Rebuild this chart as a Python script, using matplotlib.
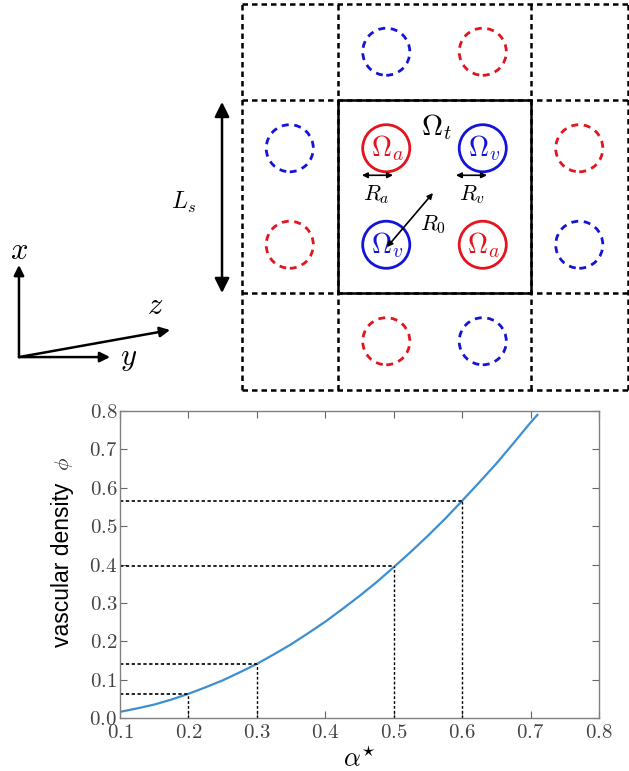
import matplotlib
matplotlib.use("Agg")
import matplotlib.pyplot as plt
from matplotlib.patches import Circle

plt.rcParams["mathtext.fontset"] = "cm"
plt.rcParams["font.family"] = "serif"
plt.rcParams["font.serif"] = ["cmr10", "DejaVu Serif"]
plt.rcParams["axes.formatter.use_mathtext"] = True

# curve
alpha = [0.100, 0.125, 0.150, 0.175, 0.200, 0.225, 0.250, 0.275, 0.300, 0.325, 0.350,
         0.375, 0.400, 0.425, 0.450, 0.475, 0.500, 0.525, 0.550, 0.575, 0.600, 0.625,
         0.650, 0.675, 0.700, 0.710]
phi = [0.016, 0.025, 0.035, 0.048, 0.063, 0.080, 0.098, 0.119, 0.141, 0.166, 0.192,
       0.221, 0.251, 0.284, 0.318, 0.354, 0.393, 0.433, 0.475, 0.519, 0.566, 0.614,
       0.663, 0.716, 0.770, 0.790]
# dotted guide points
mark_alpha = [0.2, 0.3, 0.5, 0.6]
mark_phi = [0.063, 0.141, 0.397, 0.566]

# cell layout (units of L_s): x, y, type, solid?
circ_x = [0.25, 0.75, 0.25, 0.75, 0.25, 0.75, 0.25, 0.75, -0.25, -0.25, 1.25, 1.25]
circ_y = [0.75, 0.75, 0.25, 0.25, 1.25, 1.25, -0.25, -0.25, 0.75, 0.25, 0.75, 0.25]
circ_kind = ["a", "v", "v", "a", "v", "a", "a", "v", "v", "a", "a", "v"]
circ_solid = [True] * 4 + [False] * 8

RED = "#e3141e"
BLUE = "#1414d8"

fig = plt.figure(figsize=(6.29, 7.71), dpi=100)

# ---- schematic, drawn in a full-figure axes (1 unit = 193 px)
s = 193.0
ax0 = fig.add_axes([0, 0, 1, 1])
ax0.set_xlim(-338 / s, (629 - 338) / s)
ax0.set_ylim((293 - 771) / s, 293 / s)
ax0.axis("off")

dash = (0, (2.2, 1.6))
for v in [-0.5, 0, 1, 1.5]:
    ax0.plot([v, v], [-0.5, 1.5], color="k", lw=1.8, ls=dash)
    ax0.plot([-0.5, 1.5], [v, v], color="k", lw=1.8, ls=dash)
ax0.plot([0, 1, 1, 0, 0], [0, 0, 1, 1, 0], color="k", lw=1.8)

for cx, cy, k, solid in zip(circ_x, circ_y, circ_kind, circ_solid):
    col = RED if k == "a" else BLUE
    ls = "-" if solid else (0, (2.5, 2))
    ax0.add_patch(Circle((cx, cy), 0.122, fill=False, ec=col, lw=2, ls=ls))
    if solid:
        ax0.text(cx + 0.005, cy, r"$\Omega_%s$" % k, color=col, fontsize=20,
                 ha="center", va="center")

ax0.text(0.513, 0.86, r"$\Omega_t$", fontsize=21, ha="center", va="center")

arr2 = dict(arrowstyle="<|-|>", color="k", lw=1.2, mutation_scale=8, shrinkA=0, shrinkB=0)
ax0.annotate("", xy=(0.124, 0.61), xytext=(0.285, 0.61), arrowprops=arr2)
ax0.annotate("", xy=(0.611, 0.61), xytext=(0.772, 0.61), arrowprops=arr2)
ax0.annotate("", xy=(0.254, 0.238), xytext=(0.492, 0.518), arrowprops=arr2)
ax0.text(0.20, 0.508, r"$R_a$", fontsize=16, ha="center", va="center")
ax0.text(0.694, 0.508, r"$R_v$", fontsize=16, ha="center", va="center")
ax0.text(0.49, 0.352, r"$R_0$", fontsize=16, ha="center", va="center")

# L_s arrow
ax0.annotate("", xy=(-0.601, 0.99), xytext=(-0.601, 0.0),
             arrowprops=dict(arrowstyle="<|-|>", color="k", lw=1.8, mutation_scale=22,
                             shrinkA=0, shrinkB=0))
ax0.text(-0.80, 0.47, r"$L_s$", fontsize=17, ha="center", va="center")

# coordinate frame
o = (-1.653, -0.332)
arr1 = dict(arrowstyle="-|>", color="k", lw=1.8, mutation_scale=15, shrinkA=0, shrinkB=0)
ax0.annotate("", xy=(o[0], 0.145), xytext=o, arrowprops=arr1)
ax0.annotate("", xy=(-1.181, o[1]), xytext=o, arrowprops=arr1)
ax0.annotate("", xy=(-0.870, -0.192), xytext=o, arrowprops=arr1)
ax0.text(o[0], 0.215, r"$x$", fontsize=22, ha="center", va="center")
ax0.text(-1.085, -0.345, r"$y$", fontsize=22, ha="center", va="center")
ax0.text(-0.948, -0.07, r"$z$", fontsize=22, ha="center", va="center")

# ---- vascular density plot
ax = fig.add_axes([120 / 629, 53 / 771, 479 / 629, 307 / 771])
ax.plot(alpha, phi, color="#3b8fd2", lw=1.6)
for a, p in zip(mark_alpha, mark_phi):
    ax.plot([0.1, a], [p, p], color="k", lw=1.2, ls=(0, (2, 1.5)))
    ax.plot([a, a], [0, p], color="k", lw=1.0, ls=(0, (2, 1.5)))
ax.set_xlim(0.1, 0.8)
ax.set_ylim(0.0, 0.8)
ax.set_xticks([0.1, 0.2, 0.3, 0.4, 0.5, 0.6, 0.7, 0.8])
ax.set_yticks([0.0, 0.1, 0.2, 0.3, 0.4, 0.5, 0.6, 0.7, 0.8])
ax.tick_params(direction="in", top=True, right=True, length=5, width=0.8,
               color="#666666", labelcolor="#444444", labelsize=15)
ax.tick_params(axis="x", pad=4)
ax.tick_params(axis="y", pad=2)
for sp in ax.spines.values():
    sp.set_color("#808080")
    sp.set_linewidth(1.0)
ax.set_xlabel(r"$\alpha^{\star}$", fontsize=19, labelpad=4)

fig.text(62 / 629, 1 - 565 / 771, "vascular density", rotation=90, ha="center",
         va="center", family="Liberation Sans", fontsize=16.5)
fig.text(64 / 629, 1 - 464 / 771, r"$\phi$", rotation=90, ha="center", va="center",
         fontsize=15, color="#333333")

fig.savefig("out.png", dpi=100)
